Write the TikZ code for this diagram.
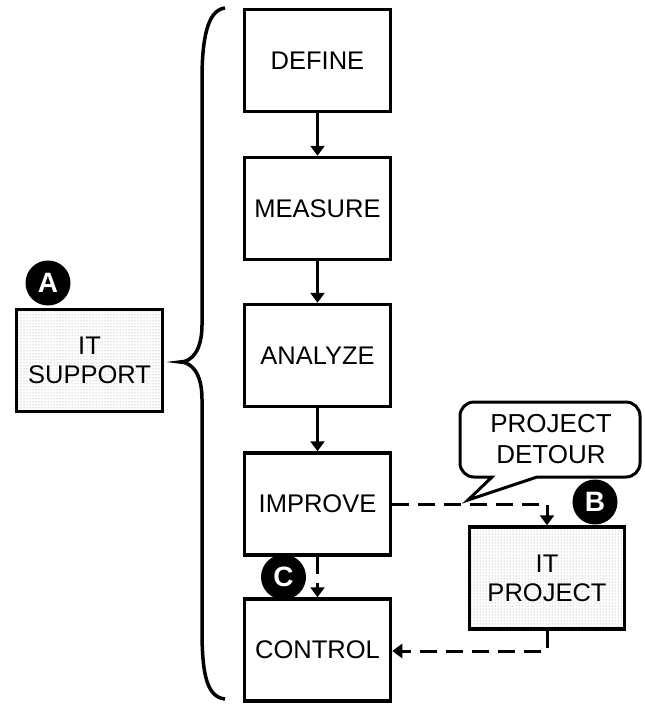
\documentclass[tikz,border=0pt]{standalone}
\usepackage{fontspec}
\setmainfont{Liberation Sans}
\usetikzlibrary{arrows.meta,patterns}
\begin{document}
\begin{tikzpicture}[x=1pt,y=-1pt,
  stepbox/.style={draw,line width=3.5pt,minimum width=146pt,minimum height=102pt,inner sep=0pt,align=center,font=\fontsize{25.5}{29}\selectfont},
  itbox/.style={stepbox,pattern=dots,pattern color=black!45},
  badge/.style={circle,fill=black,inner sep=0pt,minimum size=45pt,text=white,font=\fontsize{28}{30}\selectfont\bfseries},
  solidarrow/.style={line width=2.5pt,-{Triangle[width=14pt,length=10pt]}},
  dasharrow/.style={line width=3pt,dash pattern=on 17pt off 9pt,-{Triangle[width=14pt,length=10pt]}}
]
\useasboundingbox (0,0) rectangle (645,705);
\node[stepbox] (define) at (317.5,60.5) {DEFINE};
\node[stepbox] (measure) at (317.5,208.5) {MEASURE};
\node[stepbox] (analyze) at (317.5,355.5) {ANALYZE};
\node[stepbox] (improve) at (317.5,504) {IMPROVE};
\node[stepbox] (control) at (317.5,650) {CONTROL};
\node[itbox] (support) at (89.5,360.5) {IT\\SUPPORT};
\node[itbox,minimum width=155pt] (project) at (547,578) {IT\\PROJECT};

\draw[solidarrow] (define) -- (measure);
\draw[solidarrow] (measure) -- (analyze);
\draw[solidarrow] (analyze) -- (improve);
\draw[dasharrow] (improve) -- (control);

\coordinate (j1) at (project.north |- improve.east);
\draw[dasharrow] (improve.east) -- (j1) -- (project.north);
\coordinate (j2) at (project.south |- 0,651);
\draw[dasharrow] (project.south) -- (j2) -- (control.east |- j2);

% brace
\draw[line width=3.5pt] (225,8) .. controls (207,10) and (202,40) .. (202,80) -- (202,325)
  .. controls (202,350) and (192,362) .. (180,362)
  .. controls (192,362) and (202,374) .. (202,399) -- (202,630)
  .. controls (202,675) and (207,697) .. (225,699);

% callout
\draw[line width=3pt,fill=white] (468,500) -- (537,477) [rounded corners=14pt] -- (640,477) -- (640,402) -- (460,402) -- (460,477) [sharp corners] -- (492,477) -- cycle;
\node[align=center,font=\fontsize{26}{31}\selectfont] (detour) at (551,439.5) {PROJECT\\DETOUR};

\node[badge] (a) at (48,283) {A};
\node[badge] (b) at (595,502) {B};
\node[badge] (c) at (283.5,577) {C};
\end{tikzpicture}
\end{document}
